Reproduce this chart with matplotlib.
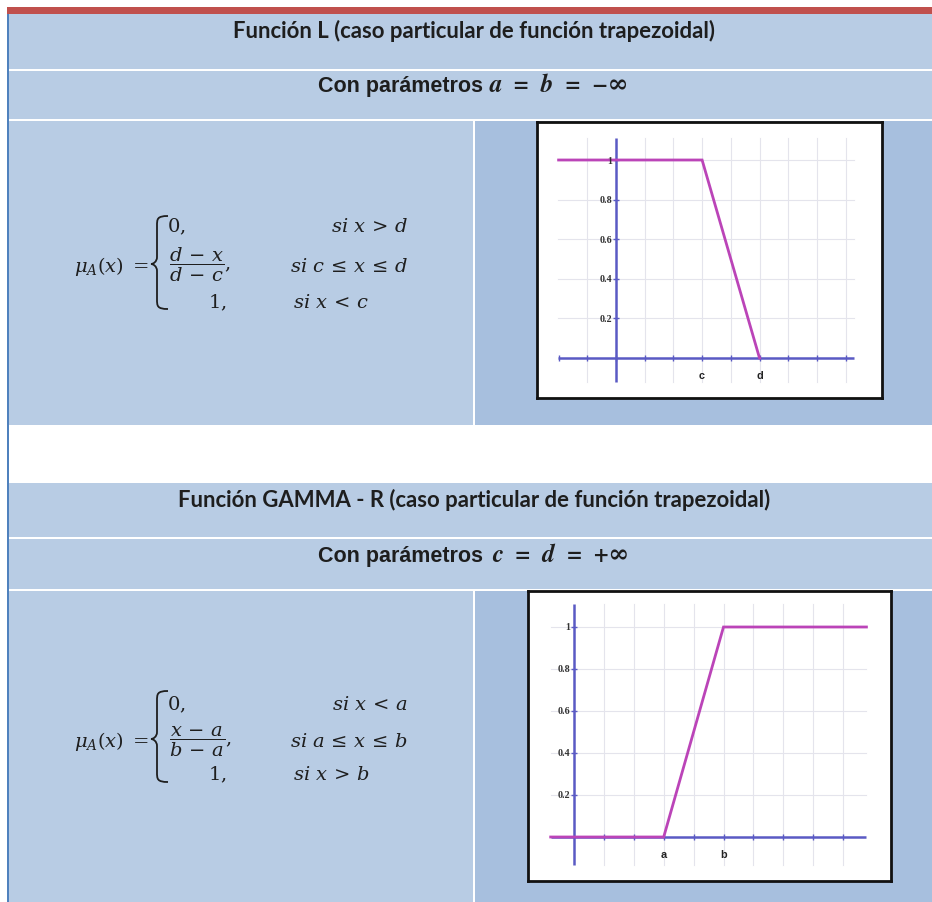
import matplotlib
matplotlib.use('Agg')
import matplotlib.pyplot as plt
from matplotlib.patches import Rectangle, PathPatch
from matplotlib.path import Path

plt.rcParams['mathtext.fontset'] = 'dejavuserif'

# ---------------- data ----------------
title_L = "Función L (caso particular de función trapezoidal)"
title_R = "Función GAMMA - R (caso particular de función trapezoidal)"
param_text = "Con parámetros"
param_math_L = "a  =  b  =  −∞"
param_math_R = "c  =  d  =  +∞"

L_x = [-2.0, 3.0, 5.0]
L_y = [1.0, 1.0, 0.0]
R_x = [-0.78, 3.0, 5.0, 9.78]
R_y = [0.0, 0.0, 1.0, 1.0]

y_ticks = [0.2, 0.4, 0.6, 0.8, 1.0]
y_tick_labels = ['0.2', '0.4', '0.6', '0.8', '1']

L_x_ticks = [-2, -1, 0, 1, 2, 3, 4, 5, 6, 7, 8]
L_grid_x = [-1, 1, 2, 3, 4, 5, 6, 7, 8]
L_param_pos = [3, 5]
L_param_labels = ['c', 'd']

R_x_ticks = [1, 2, 3, 4, 5, 6, 7, 8, 9]
R_grid_x = [1, 2, 3, 4, 5, 6, 7, 8, 9]
R_param_pos = [3, 5]
R_param_labels = ['a', 'b']

# ---------------- colours ----------------
C_LIGHT = '#B8CCE4'
C_DARK = '#A7BFDE'
C_RED = '#C0504D'
C_BORDER = '#4F81BD'
C_MAG = '#BB44B8'
C_AXIS = '#5A5AC4'
C_GRID = '#E4E4EC'
C_TXT = '#1E1E1E'

W, H = 932, 903
fig = plt.figure(figsize=(W / 100, H / 100), dpi=100)
fig.patch.set_facecolor('white')
bg = fig.add_axes([0, 0, 1, 1])
bg.set_xlim(0, W)
bg.set_ylim(H, 0)
bg.axis('off')
r = fig.canvas.get_renderer()


def rect(x0, y0, x1, y1, c):
    bg.add_patch(Rectangle((x0, y0), x1 - x0, y1 - y0, facecolor=c,
                           edgecolor='none', zorder=0))


# table cells
rect(7, 8, W, 15, C_RED)
rect(9, 15, W, 70, C_LIGHT)
rect(9, 72, W, 120, C_LIGHT)
rect(9, 122, 473, 426, C_LIGHT)
rect(475, 122, W, 426, C_DARK)
rect(9, 484, W, 538, C_LIGHT)
rect(9, 540, W, 590, C_LIGHT)
rect(9, 592, 473, H, C_LIGHT)
rect(475, 592, W, H, C_DARK)
rect(7, 15, 9, H, C_BORDER)


def fit_text(x, y, s, width, **kw):
    t = bg.text(x, y, s, fontsize=10, **kw)
    w = t.get_window_extent(renderer=r).width
    t.set_fontsize(10 * width / w)
    return t


# titles
t1 = fit_text(474, 38, title_L, 484, ha='center', va='baseline',
              family='Lato', weight='bold', color=C_TXT)
fs_title = t1.get_fontsize()
bg.text(474, 507, title_R, fontsize=fs_title, ha='center', va='baseline',
        family='Lato', weight='bold', color=C_TXT)

# parameter rows
MATH_FAM = ['STIXGeneral', 'DejaVu Serif']
p1 = fit_text(318, 92, param_text, 165, ha='left', va='baseline',
              family='Liberation Sans', weight='bold', color=C_TXT)
fs_p = p1.get_fontsize()
bg.text(318, 562, param_text, fontsize=fs_p, ha='left', va='baseline',
        family='Liberation Sans', weight='bold', color=C_TXT)
m1 = fit_text(490, 92, param_math_L, 140, ha='left', va='baseline',
              family=MATH_FAM, style='italic', weight='bold', color=C_TXT)
fs_m = m1.get_fontsize()
bg.text(492, 562, param_math_R, fontsize=fs_m, ha='left', va='baseline',
        family=MATH_FAM, style='italic', weight='bold', color=C_TXT)


# formulas
def brace(xl, xs, xr, yt, yb, ym):
    verts = [(xr, yt),
             (xs, yt), (xs, yt + 3), (xs, yt + 10),
             (xs, ym - 7),
             (xs, ym - 2), (xl + 2, ym), (xl, ym),
             (xl + 2, ym), (xs, ym + 2), (xs, ym + 7),
             (xs, yb - 10),
             (xs, yb - 3), (xs, yb), (xr, yb)]
    codes = [Path.MOVETO,
             Path.CURVE4, Path.CURVE4, Path.CURVE4,
             Path.LINETO,
             Path.CURVE4, Path.CURVE4, Path.CURVE4,
             Path.CURVE4, Path.CURVE4, Path.CURVE4,
             Path.LINETO,
             Path.CURVE4, Path.CURVE4, Path.CURVE4]
    bg.add_patch(PathPatch(Path(verts, codes), facecolor='none',
                           edgecolor=C_TXT, lw=1.3, zorder=5))


fs_f = 14


def ftext(x, y, s, ha='left'):
    bg.text(x, y, s, fontsize=fs_f, ha=ha, va='baseline', color=C_TXT)


def formula(y0, cond0, frac, cond1, cond2, dy_top, dy_bot, xr):
    ftext(148, y0, r'$\mu_A(x)\;=$', ha='right')
    ftext(167, y0 + dy_top, r'$0,$')
    ftext(169, y0 - 1, frac)
    ftext(227, y0 + dy_bot, r'$1,$', ha='right')
    ftext(xr, y0 + dy_top, cond0, ha='right')
    ftext(xr, y0, cond1, ha='right')
    ftext(293, y0 + dy_bot, cond2)


formula(272, r'$si\ x\,>\,d$', r'$\dfrac{d\,-\,x}{d\,-\,c},$',
        r'$si\ c\,\leq\,x\,\leq\,d$', r'$si\ x\,<\,c$', -40, 36, 408)
brace(151, 157, 168, 217, 310, 265)

formula(747, r'$si\ x\,<\,a$', r'$\dfrac{x\,-\,a}{b\,-\,a},$',
        r'$si\ a\,\leq\,x\,\leq\,b$', r'$si\ x\,>\,b$', -37, 33, 408)
brace(151, 157, 168, 692, 783, 740)


# ---------------- charts ----------------
def chart(box, origin, unit, xr, yr, lx, ly, xticks, gridx, ppos, plabs):
    x0, y0, x1, y1 = box
    ox, oy = origin
    ux, uy = unit
    ax = fig.add_axes([x0 / W, 1 - y1 / H, (x1 - x0) / W, (y1 - y0) / H])
    ax.set_facecolor('white')
    ax.set_xlim((x0 - ox) / ux, (x1 - ox) / ux)
    ax.set_ylim((oy - y1) / uy, (oy - y0) / uy)
    ax.set_xticks([])
    ax.set_yticks([])
    for s in ax.spines.values():
        s.set_color('#111111')
        s.set_linewidth(2.0)
    # grid
    for gx in gridx:
        ax.plot([gx, gx], yr, color=C_GRID, lw=0.8, zorder=1)
    for gy in y_ticks:
        ax.plot(xr, [gy, gy], color=C_GRID, lw=0.8, zorder=1)
    # axes
    ax.plot(xr, [0, 0], color=C_AXIS, lw=1.8, zorder=2, solid_capstyle='butt')
    ax.plot([0, 0], yr, color=C_AXIS, lw=1.8, zorder=2, solid_capstyle='butt')
    ax.plot(xticks, [0] * len(xticks), ls='none', marker='|', ms=5,
            mew=1.0, color=C_AXIS, zorder=2)
    ax.plot([0] * len(y_ticks), y_ticks, ls='none', marker='_', ms=5,
            mew=1.0, color=C_AXIS, zorder=2)
    # membership function
    ax.plot(lx, ly, color=C_MAG, lw=2.0, zorder=3, solid_joinstyle='miter')
    # labels
    for v, lab in zip(y_ticks, y_tick_labels):
        ax.text(-4 / ux, v, lab, ha='right', va='center', fontsize=7.2,
                family='Liberation Serif', weight='bold', color='#333333')
    for p, lab in zip(ppos, plabs):
        ax.text(p, -17 / uy, lab, ha='center', va='center', fontsize=7.8,
                family='Liberation Sans', weight='bold', color='#222222')
    return ax


chart((537, 123, 882, 399), (616, 359), (28.7, 198), [-2.01, 8.28],
      [-0.121, 1.111], L_x, L_y, L_x_ticks, L_grid_x, L_param_pos, L_param_labels)
chart((528, 592, 891, 882), (574, 838), (29.9, 210), [-0.78, 9.78],
      [-0.133, 1.11], R_x, R_y, R_x_ticks, R_grid_x, R_param_pos, R_param_labels)

fig.savefig('out.png', dpi=100, facecolor='white')
